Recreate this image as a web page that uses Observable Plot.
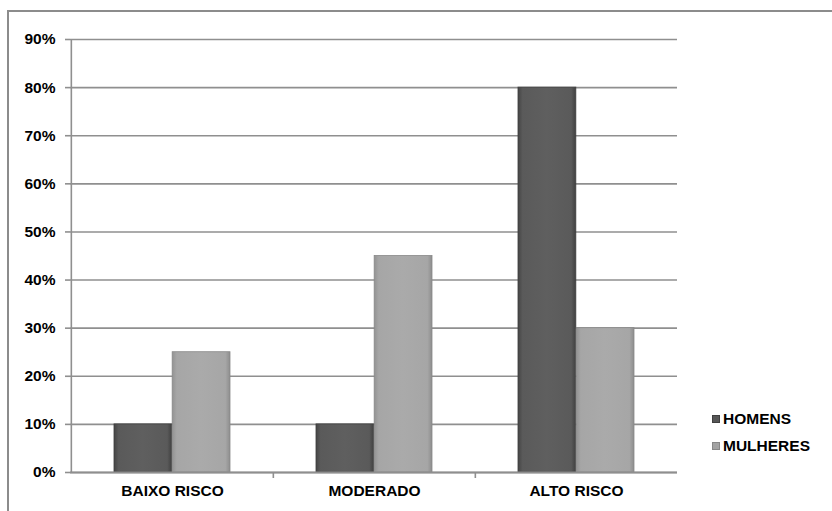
<!DOCTYPE html>
<html>
<head>
<meta charset="utf-8">
<script src="https://cdn.jsdelivr.net/npm/d3@7"></script>
<script src="https://cdn.jsdelivr.net/npm/@observablehq/plot@0.6"></script>
<style>
  html, body { margin: 0; padding: 0; background: #fff; }
  #wrap { position: relative; width: 832px; height: 511px; overflow: hidden; font-family: "Liberation Sans", Arial, sans-serif; }
  #frame { position: absolute; left: 7px; top: 10px; width: 900px; height: 600px; border-left: 2px solid #8c8c8c; border-top: 2px solid #8c8c8c; box-sizing: border-box; }
  #chart { position: absolute; left: 0; top: 0; }
  .legend { position: absolute; left: 712px; font-weight: bold; font-size: 15.5px; color: #000; display: flex; align-items: center; }
  .legend .sw { width: 8px; height: 8px; margin-right: 3px; box-sizing: border-box; }
</style>
</head>
<body>
<div id="wrap">
  <div id="frame"></div>
  <div id="chart"></div>
</div>
<script>
const categories = ["BAIXO RISCO", "MODERADO", "ALTO RISCO"];
const series = ["HOMENS", "MULHERES"];
const homens = [10, 10, 80];
const mulheres = [25, 45, 30];
const yTicks = [0, 10, 20, 30, 40, 50, 60, 70, 80, 90];

const data = [];
categories.forEach((c, i) => {
  data.push({cat: c, series: "HOMENS", value: homens[i]});
  data.push({cat: c, series: "MULHERES", value: mulheres[i]});
});

const W = 832, H = 511, mL = 70, mR = 155, mT = 39, mB = 39;
const bw = (W - mL - mR) / categories.length;
const gridColor = "#8f8f8f";

const plot = Plot.plot({
  width: W, height: H,
  marginLeft: mL, marginRight: mR, marginTop: mT, marginBottom: mB,
  style: {fontFamily: "'Liberation Sans', Arial, sans-serif", fontSize: "15.5px", fontWeight: "bold", color: "#000", background: "transparent"},
  x: {domain: categories, padding: 0, label: null},
  y: {domain: [0, 90], label: null},
  color: {domain: series, range: ["url(#gH)", "url(#gM)"]},
  marks: [
    Plot.ruleY(yTicks, {stroke: gridColor, strokeWidth: 1.6}),
    Plot.barY(data.filter(d => d.series === "HOMENS"), {
      x: "cat", y: "value", fill: "series",
      insetLeft: bw * 0.2125, insetRight: bw * 0.5,
      stroke: "#3f3f3f", strokeWidth: 0.8
    }),
    Plot.barY(data.filter(d => d.series === "MULHERES"), {
      x: "cat", y: "value", fill: "series",
      insetLeft: bw * 0.5, insetRight: bw * 0.2125,
      stroke: "#888", strokeWidth: 0.8
    }),
    Plot.ruleX([categories[0]], {dx: -bw / 2, y1: 0, y2: 90, stroke: gridColor, strokeWidth: 1.6}),
    Plot.ruleX(categories.slice(1), {dx: -bw / 2, y1: 0, y2: 0, insetBottom: -6, stroke: gridColor, strokeWidth: 1.6}),
    Plot.ruleY([0], {stroke: gridColor, strokeWidth: 2}),
    Plot.axisY({ticks: yTicks, tickFormat: d => d + "%", tickSize: 5, tickPadding: 10, stroke: gridColor, strokeWidth: 1.6, fontWeight: "bold", fill: "#000"}),
    Plot.axisX({tickSize: 0, tickPadding: 12, fontWeight: "bold", fill: "#000"})
  ]
});

const defs = d3.select(plot).insert("defs", ":first-child");
function grad(id, stops) {
  const g = defs.append("linearGradient").attr("id", id).attr("x1", "0").attr("x2", "1").attr("y1", "0").attr("y2", "0");
  stops.forEach(([o, c]) => g.append("stop").attr("offset", o).attr("stop-color", c));
}
grad("gH", [[0, "#454545"], [0.08, "#5a5a5a"], [0.5, "#5f5f5f"], [0.92, "#5a5a5a"], [1, "#404040"]]);
grad("gM", [[0, "#939393"], [0.08, "#a6a6a6"], [0.5, "#aaaaaa"], [0.92, "#a6a6a6"], [1, "#8e8e8e"]]);

document.getElementById("chart").appendChild(plot);

const wrap = document.getElementById("wrap");
const legendColors = {"HOMENS": "#565656", "MULHERES": "#a3a3a3"};
const legendY = [419, 446];
series.forEach((s, i) => {
  const div = document.createElement("div");
  div.className = "legend";
  div.style.top = (legendY[i] - 9) + "px";
  div.style.height = "18px";
  const sw = document.createElement("span");
  sw.className = "sw";
  sw.style.background = legendColors[s];
  sw.style.border = "1px solid " + (i === 0 ? "#3f3f3f" : "#888");
  const t = document.createElement("span");
  t.textContent = s;
  div.appendChild(sw);
  div.appendChild(t);
  wrap.appendChild(div);
});
</script>
</body>
</html>
